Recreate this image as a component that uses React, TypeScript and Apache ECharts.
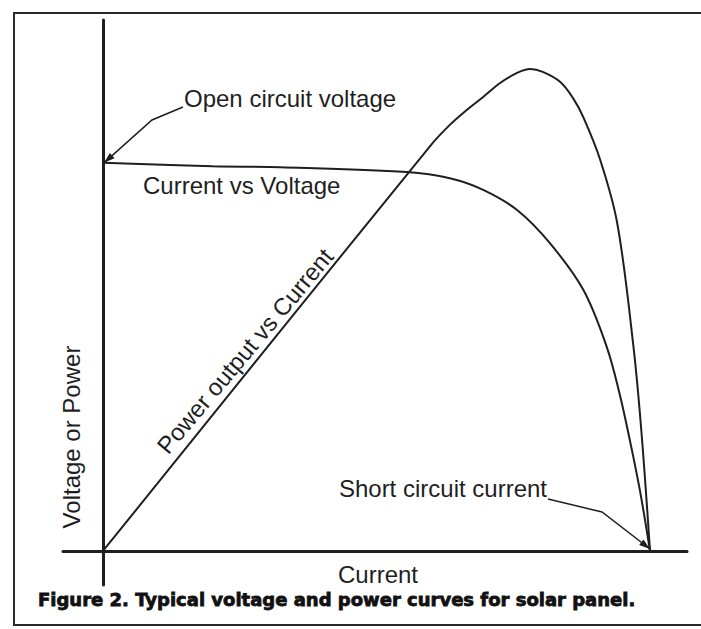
import React, { useEffect, useRef } from "react";
import * as echarts from "echarts";

// Current vs Voltage curve (current in % of short-circuit current, voltage in arbitrary units)
const currentIV = [0, 20.1, 32.4, 55.6, 63.4, 69.5, 75.7, 81.7, 87.8, 92.1, 94.5, 96.3, 98.2, 100];
const voltageIV = [80.7, 80.0, 79.8, 78.8, 77.5, 75.1, 70.9, 64.0, 54.3, 42.4, 32.4, 23.1, 12.3, 0];

// Power output vs Current curve
const currentP = [0, 59.8, 63.4, 66.5, 69.5, 72.6, 75.7, 78.1, 80.4, 83.6, 85.9, 87.8, 90.9, 94.0, 96.9, 98.4, 100];
const powerP = [0, 84.2, 88.6, 91.7, 94.4, 97.3, 99.4, 100.2, 99.6, 97.5, 94.2, 90.2, 81.3, 68.2, 43.2, 25.2, 0];

const xRange = [-7.31, 106.76];
const yRange = [-7.07, 110.4];

const xName = "Current";
const yName = "Voltage or Power";
const ivLabel = "Current vs Voltage";
const pLabel = "Power output vs Current";
const ocLabel = "Open circuit voltage";
const scLabel = "Short circuit current";
const caption = "Figure 2. Typical voltage and power curves for solar panel.";

const INK = "#1f1f1f";
const FONT = '"Liberation Sans", Arial, Helvetica, sans-serif';

function arrowHead(tip: number[], from: number[], len = 11, half = 3.5) {
  const dx = tip[0] - from[0];
  const dy = tip[1] - from[1];
  const d = Math.hypot(dx, dy) || 1;
  const ux = dx / d;
  const uy = dy / d;
  const bx = tip[0] - ux * len;
  const by = tip[1] - uy * len;
  return [
    [tip[0], tip[1]],
    [bx - uy * half, by + ux * half],
    [bx + uy * half, by - ux * half],
  ];
}

export default function App() {
  const ref = useRef<HTMLDivElement>(null);

  useEffect(() => {
    if (!ref.current) return;
    const chart = echarts.init(ref.current, null, { renderer: "svg" });
    chart.setOption({
      animation: false,
      backgroundColor: "#ffffff",
      grid: { left: 63, right: 14, top: 20, bottom: 44, containLabel: false },
      xAxis: {
        type: "value",
        min: xRange[0],
        max: xRange[1],
        axisLine: { show: true, onZero: true, lineStyle: { color: INK, width: 3 } },
        axisTick: { show: false },
        axisLabel: { show: false },
        splitLine: { show: false },
      },
      yAxis: {
        type: "value",
        min: yRange[0],
        max: yRange[1],
        axisLine: { show: true, onZero: true, lineStyle: { color: INK, width: 3 } },
        axisTick: { show: false },
        axisLabel: { show: false },
        splitLine: { show: false },
      },
      series: [
        {
          name: ivLabel,
          type: "line",
          data: currentIV.map((c, i) => [c, voltageIV[i]]),
          showSymbol: false,
          smooth: 0.35,
          lineStyle: { color: INK, width: 2 },
          silent: true,
        },
        {
          name: pLabel,
          type: "line",
          data: currentP.map((c, i) => [c, powerP[i]]),
          showSymbol: false,
          smooth: 0.35,
          lineStyle: { color: INK, width: 2 },
          silent: true,
        },
      ],
    });

    const oc = chart.convertToPixel({ gridIndex: 0 }, [currentIV[0], voltageIV[0]]) as number[];
    const last = currentIV.length - 1;
    const sc = chart.convertToPixel({ gridIndex: 0 }, [currentIV[last], voltageIV[last]]) as number[];

    const ocPath = [[183, 107], [152, 120], [oc[0] + 1, oc[1]]];
    const scPath = [[548, 499], [602, 512], [sc[0], sc[1] - 2]];

    const textStyle = (extra: any) => ({
      fontFamily: FONT,
      fontSize: 24,
      fill: INK,
      ...extra,
    });

    chart.setOption({
      graphic: {
        elements: [
          {
            type: "polyline",
            silent: true,
            shape: { points: [[701, 13], [14, 13], [14, 625], [701, 625]] },
            style: { stroke: "#2a2a2a", lineWidth: 2, fill: null },
          },
          {
            type: "polyline",
            silent: true,
            shape: { points: ocPath },
            style: { stroke: INK, lineWidth: 1.5, fill: null },
          },
          {
            type: "polygon",
            silent: true,
            shape: { points: arrowHead(ocPath[2], ocPath[1]) },
            style: { fill: INK },
          },
          {
            type: "polyline",
            silent: true,
            shape: { points: scPath },
            style: { stroke: INK, lineWidth: 1.5, fill: null },
          },
          {
            type: "polygon",
            silent: true,
            shape: { points: arrowHead(scPath[2], scPath[1]) },
            style: { fill: INK },
          },
          {
            type: "text",
            silent: true,
            x: 184,
            y: 98,
            style: textStyle({ text: ocLabel, align: "left", verticalAlign: "middle" }),
          },
          {
            type: "text",
            silent: true,
            x: 143,
            y: 185,
            style: textStyle({ text: ivLabel, align: "left", verticalAlign: "middle" }),
          },
          {
            type: "text",
            silent: true,
            x: 547,
            y: 488,
            style: textStyle({ text: scLabel, align: "right", verticalAlign: "middle" }),
          },
          {
            type: "text",
            silent: true,
            x: 245,
            y: 351,
            rotation: (50 * Math.PI) / 180,
            style: textStyle({ text: pLabel, align: "center", verticalAlign: "middle" }),
          },
          {
            type: "text",
            silent: true,
            x: 71,
            y: 437,
            rotation: Math.PI / 2,
            style: textStyle({ text: yName, align: "center", verticalAlign: "middle" }),
          },
          {
            type: "text",
            silent: true,
            x: 378,
            y: 574,
            style: textStyle({ text: xName, align: "center", verticalAlign: "middle" }),
          },
          {
            type: "text",
            silent: true,
            x: 38,
            y: 599,
            style: {
              text: caption,
              fontFamily: '"DejaVu Sans", sans-serif',
              fontWeight: "bold",
              fontSize: 18,
              fill: "#111",
              stroke: "#111",
              lineWidth: 0.8,
              align: "left",
              verticalAlign: "middle",
            },
          },
        ],
      },
    });

    return () => chart.dispose();
  }, []);

  return (
    <div
      ref={ref}
      style={{ position: "absolute", left: 0, top: 0, width: 701, height: 629, background: "#fff" }}
    />
  );
}
